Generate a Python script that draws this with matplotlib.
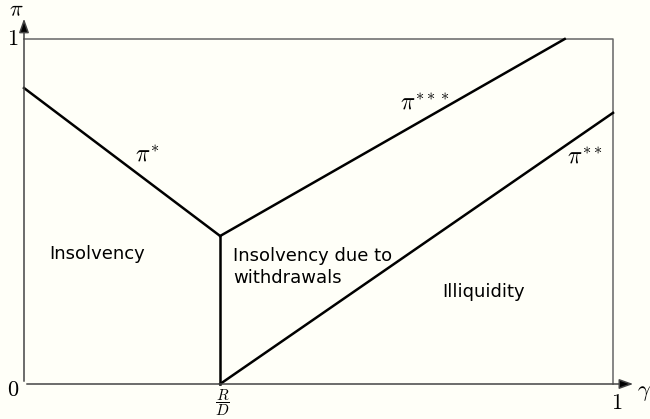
import matplotlib
matplotlib.use("Agg")
import matplotlib.pyplot as plt

plt.rcParams['mathtext.fontset'] = 'cm'
plt.rcParams['font.family'] = ['DejaVu Sans']

# boundary lines (gamma, pi)
rd = 0.333          # position of R/D on the gamma axis
pi_star = [0.858, 0.429]        # pi* from gamma=0 to R/D
pi3_gamma = [rd, 0.918]
pi3_vals = [0.429, 1.0]
pi2_gamma = [rd, 1.0]
pi2_vals = [0.0, 0.786]

region_labels = ["Insolvency", "Insolvency due to\nwithdrawals", "Illiquidity"]
bg = '#fffff8'

fig = plt.figure(figsize=(6.5, 4.19), dpi=100, facecolor=bg)
ax = fig.add_axes([0, 0, 1, 1], facecolor=bg)
ax.set_xlim(-24 / 589, 626 / 589)
ax.set_ylim(-35 / 345, 384 / 345)
ax.axis('off')

axcol = '#444444'
# axes with arrows
ax.annotate('', xy=(1.039, 0), xytext=(0, 0),
            arrowprops=dict(arrowstyle='-|>,head_length=0.7,head_width=0.25',
                            color=axcol, fc='black', lw=1.1, mutation_scale=12))
ax.annotate('', xy=(0, 1.067), xytext=(0, 0),
            arrowprops=dict(arrowstyle='-|>,head_length=0.7,head_width=0.25',
                            color=axcol, fc='black', lw=1.1, mutation_scale=12))
# box
ax.plot([0, 1, 1], [1, 1, 0], color='#666666', lw=1.1)

# curves
ax.plot([0, rd], pi_star, color='black', lw=1.8)
ax.plot([rd, rd], [0, pi_star[1]], color='black', lw=1.8)
ax.plot(pi3_gamma, pi3_vals, color='black', lw=1.8)
ax.plot(pi2_gamma, pi2_vals, color='black', lw=1.8)

# tick labels
ms = 17
ax.text(-0.008, -0.018, '$0$', ha='right', va='center', fontsize=16)
ax.text(-0.01, 1.0, '$1$', ha='right', va='center', fontsize=16)
ax.text(1.007, -0.055, '$1$', ha='center', va='center', fontsize=16)
ax.text(rd + 0.003, -0.008, r'$\dfrac{R}{D}$', ha='center', va='top', fontsize=11)
ax.text(-0.0136, 1.084, r'$\pi$', ha='center', va='center', fontsize=16)
ax.text(1.0526, -0.026, r'$\gamma$', ha='center', va='center', fontsize=16)

# curve labels
ax.text(0.209, 0.665, r'$\pi^{*}$', ha='center', va='center', fontsize=ms)
ax.text(0.681, 0.815, r'$\pi^{***}$', ha='center', va='center', fontsize=ms)
ax.text(0.952, 0.66, r'$\pi^{**}$', ha='center', va='center', fontsize=ms)

# region labels
ax.text(0.124, 0.377, region_labels[0], ha='center', va='center', fontsize=13)
ax.text(0.355, 0.34, region_labels[1], ha='left', va='center', fontsize=13,
        linespacing=1.3)
ax.text(0.781, 0.267, region_labels[2], ha='center', va='center', fontsize=13)

fig.savefig('out.png', dpi=100, facecolor=bg)
